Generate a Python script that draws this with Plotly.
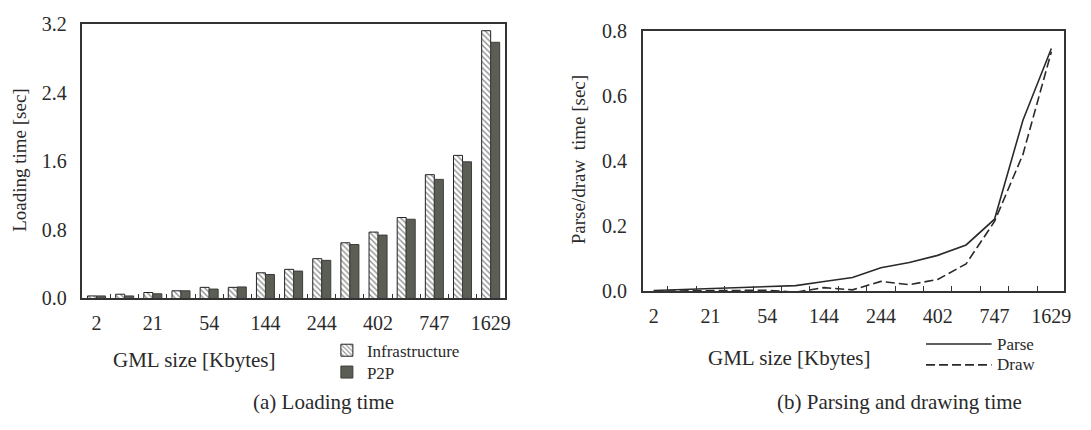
import plotly.graph_objects as go

# ---------------- data ----------------
n_sizes = 15
tick_positions = [0, 2, 4, 6, 8, 10, 12, 14]
tick_labels = ["2", "21", "54", "144", "244", "402", "747", "1629"]

infra = [0.03, 0.05, 0.07, 0.09, 0.13, 0.13, 0.30, 0.34, 0.465, 0.65, 0.775, 0.945, 1.445, 1.67, 3.125]
p2p = [0.03, 0.03, 0.055, 0.09, 0.11, 0.135, 0.28, 0.32, 0.445, 0.63, 0.74, 0.925, 1.39, 1.595, 2.99]

parse = [0.002, 0.005, 0.006, 0.011, 0.0125, 0.017, 0.03, 0.042, 0.072, 0.088, 0.11, 0.142, 0.221, 0.525, 0.745]
draw = [0.0, 0.001, 0.002, 0.004, 0.003, -0.003, 0.011, 0.004, 0.03, 0.02, 0.036, 0.084, 0.214, 0.42, 0.735]

left_y_ticks = [0.0, 0.8, 1.6, 2.4, 3.2]
right_y_ticks = [0.0, 0.2, 0.4, 0.6, 0.8]

# ---------------- styling helpers ----------------
W, H = 1091, 430
FONT = "Liberation Serif, Times New Roman, DejaVu Serif, serif"
TXT = "#2a2a2a"
AX = "#333333"

def px(x):
    return x / W

def py(y):
    return 1 - y / H

xs = list(range(n_sizes))
boundaries = [i + 0.5 for i in range(n_sizes - 1)]

fig = go.Figure()

fig.add_trace(go.Bar(
    x=xs, y=infra, name="Infrastructure", xaxis="x", yaxis="y",
    marker=dict(color="white", line=dict(color="#222", width=1),
                pattern=dict(shape="\\", fgcolor="#222", bgcolor="white", size=4, solidity=0.35)),
    legend="legend",
))
fig.add_trace(go.Bar(
    x=xs, y=p2p, name="P2P", xaxis="x", yaxis="y",
    marker=dict(color="#5a5e55", line=dict(color="#3c3f39", width=1)),
    legend="legend2",
))
fig.add_trace(go.Scatter(
    x=xs, y=parse, name="Parse", mode="lines", xaxis="x2", yaxis="y2",
    line=dict(color="#2a2a2a", width=1.6), showlegend=False,
))
fig.add_trace(go.Scatter(
    x=xs, y=draw, name="Draw", mode="lines", xaxis="x2", yaxis="y2",
    line=dict(color="#2a2a2a", width=1.6, dash="9px,4px"), showlegend=False,
))

axis_common = dict(showline=True, linecolor=AX, linewidth=1.5, mirror=True,
                   showgrid=False, zeroline=False,
                   tickfont=dict(family=FONT, size=20, color=TXT))

legend_font = dict(family=FONT, size=17, color=TXT)

fig.update_layout(
    width=W, height=H,
    margin=dict(l=0, r=0, t=0, b=0),
    paper_bgcolor="white", plot_bgcolor="white",
    barmode="group", bargap=0.36, bargroupgap=0.0,
    font=dict(family=FONT, color=TXT),
    xaxis=dict(domain=[px(83), px(508)], anchor="y", range=[-0.5, 14.5],
               tickmode="array", tickvals=tick_positions, ticktext=tick_labels,
               ticks="", ticklabelstandoff=6,
               minor=dict(tickmode="array", tickvals=boundaries, ticks="inside",
                          ticklen=5, tickcolor=AX, tickwidth=1),
               **axis_common),
    yaxis=dict(domain=[py(303), py(14)], anchor="x", range=[0, 3.2],
               tickmode="array", tickvals=left_y_ticks, tickformat=".1f",
               ticks="", ticklabelstandoff=10, **axis_common),
    xaxis2=dict(domain=[px(647), px(1071)], anchor="y2", range=[-0.38, 14.45],
                tickmode="array", tickvals=tick_positions, ticktext=tick_labels,
                ticks="", ticklabelstandoff=6,
                minor=dict(tickmode="array", tickvals=boundaries, ticks="inside",
                           ticklen=5, tickcolor=AX, tickwidth=1),
                **axis_common),
    yaxis2=dict(domain=[py(295.3), py(20.7)], anchor="x2", range=[0, 0.8],
                tickmode="array", tickvals=right_y_ticks, tickformat=".1f",
                ticks="", ticklabelstandoff=10, **axis_common),
    legend=dict(x=px(329), y=py(358), xanchor="left", yanchor="middle",
                bgcolor="rgba(0,0,0,0)", borderwidth=0, font=legend_font),
    legend2=dict(x=px(329), y=py(381), xanchor="left", yanchor="middle",
                 bgcolor="rgba(0,0,0,0)", borderwidth=0, font=legend_font),
)

def ann(text, x, y, size=20, angle=0, xanchor="center"):
    fig.add_annotation(text=text, x=px(x), y=py(y), xref="paper", yref="paper",
                       showarrow=False, textangle=angle, xanchor=xanchor, yanchor="middle",
                       font=dict(family=FONT, size=size, color=TXT))

ann("Loading time [sec]", 20, 157, size=19, angle=-90)
ann("Parse/draw\u00a0 time [sec]", 583, 157, size=19, angle=-90)
ann("GML size [Kbytes]", 196, 368, size=21)
ann("GML size [Kbytes]", 795, 366, size=21)
ann("(a) Loading time", 326, 412, size=21)
ann("(b) Parsing and drawing time", 905, 412, size=21)

# line legend for the right panel
fig.add_shape(type="line", xref="paper", yref="paper", x0=px(932), x1=px(998), y0=py(351), y1=py(351),
              line=dict(color="#2a2a2a", width=1.6))
fig.add_shape(type="line", xref="paper", yref="paper", x0=px(932), x1=px(998), y0=py(373), y1=py(373),
              line=dict(color="#2a2a2a", width=1.6, dash="9px,4px"))
ann("Parse", 1001, 351, size=17, xanchor="left")
ann("Draw", 1001, 373, size=17, xanchor="left")

fig.write_html("out.html")
